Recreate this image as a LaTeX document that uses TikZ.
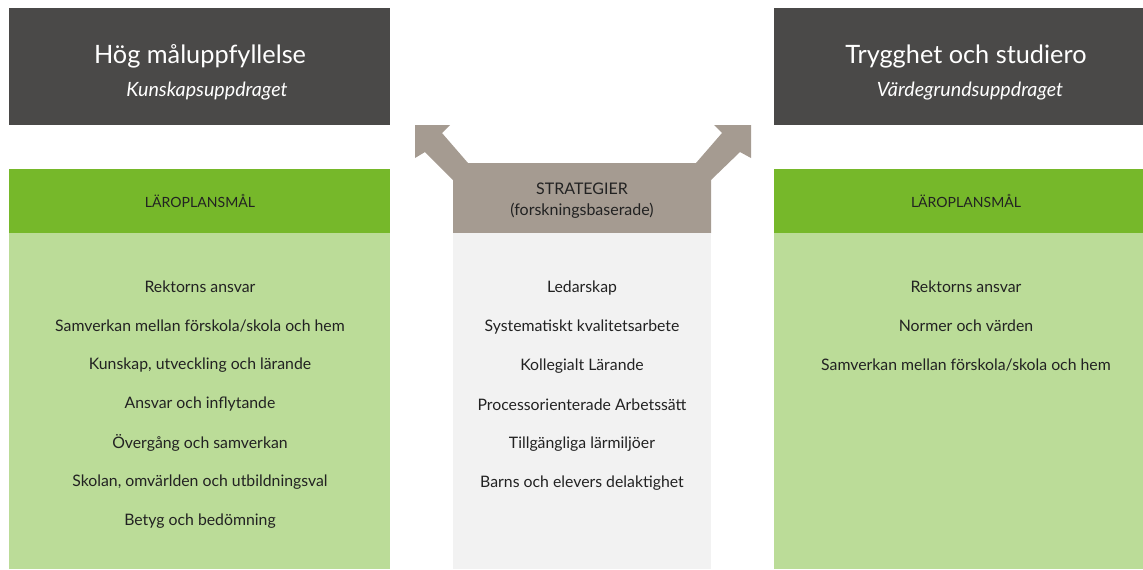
\documentclass[tikz,border=0pt]{standalone}
\usepackage{fontspec}
\setmainfont{Lato}
\definecolor{mork}{HTML}{4A4948}
\definecolor{gron}{HTML}{76B82A}
\definecolor{ljusgron}{HTML}{BBDC98}
\definecolor{brun}{HTML}{A59B91}
\definecolor{ljusgra}{HTML}{F2F2F2}
\definecolor{text}{HTML}{222222}

\begin{document}
\begin{tikzpicture}[x=0.02cm, y=-0.02cm,
  rubrik/.style={text=white, font=\fontsize{14.4}{17}\selectfont},
  underrubrik/.style={text=white, font=\fontsize{11.2}{13}\selectfont\itshape},
  huvud/.style={text=text, font=\fontsize{8.0}{10}\selectfont, align=center},
  strathuvud/.style={text=text, font=\fontsize{9.1}{12}\selectfont, align=center},
  punkt/.style={text=text, font=\fontsize{9.0}{10}\selectfont}]

  % ram
  \useasboundingbox (0,0) rectangle (1143,569);

  % mal-rutor
  \fill[mork] (9,8) rectangle (390,125);
  \fill[mork] (774,8) rectangle (1143,125);
  \node[rubrik] (malV) at (200,56) {Hög måluppfyllelse};
  \node[underrubrik] (uppdragV) at (207,91) {Kunskapsuppdraget};
  \node[rubrik] (malH) at (966,56) {Trygghet och studiero};
  \node[underrubrik] (uppdragH) at (970,91) {Värdegrundsuppdraget};

  % laroplansmal
  \fill[gron] (9,169) rectangle (390,233);
  \fill[ljusgron] (9,233) rectangle (390,569);
  \fill[gron] (774,169) rectangle (1143,233);
  \fill[ljusgron] (774,233) rectangle (1143,569);
  \node[huvud] (lpV) at (200,201) {LÄROPLANSMÅL};
  \node[huvud] (lpH) at (966,201) {LÄROPLANSMÅL};

  % strategier med pilar
  \fill[brun] (453,233) -- (453,180) -- (425,152) -- (415,158) -- (415,125)
    -- (450,125) -- (442,133) -- (468,163) -- (696,163) -- (722,133)
    -- (714,125) -- (751,125) -- (751,158) -- (740,152) -- (711,180)
    -- (711,233) -- cycle;
  \fill[ljusgra] (453,233) rectangle (711,569);
  \node[strathuvud] (strat) at (582,201) {STRATEGIER\\(forskningsbaserade)};

  % listor
  \foreach \t [count=\i] in {Rektorns ansvar, Samverkan mellan förskola/skola och hem,
      {Kunskap, utveckling och lärande}, Ansvar och inflytande, Övergång och samverkan,
      {Skolan, omvärlden och utbildningsval}, Betyg och bedömning}
    \node[punkt] (v\i) at (200,248+39*\i) {\t};

  \foreach \t [count=\i] in {Ledarskap, Systematiskt kvalitetsarbete, Kollegialt Lärande,
      Processorienterade Arbetssätt, Tillgängliga lärmiljöer, Barns och elevers delaktighet}
    \node[punkt] (s\i) at (582,249+39*\i) {\t};

  \foreach \t [count=\i] in {Rektorns ansvar, Normer och värden,
      Samverkan mellan förskola/skola och hem}
    \node[punkt] (h\i) at (966,248+39*\i) {\t};

\end{tikzpicture}
\end{document}
